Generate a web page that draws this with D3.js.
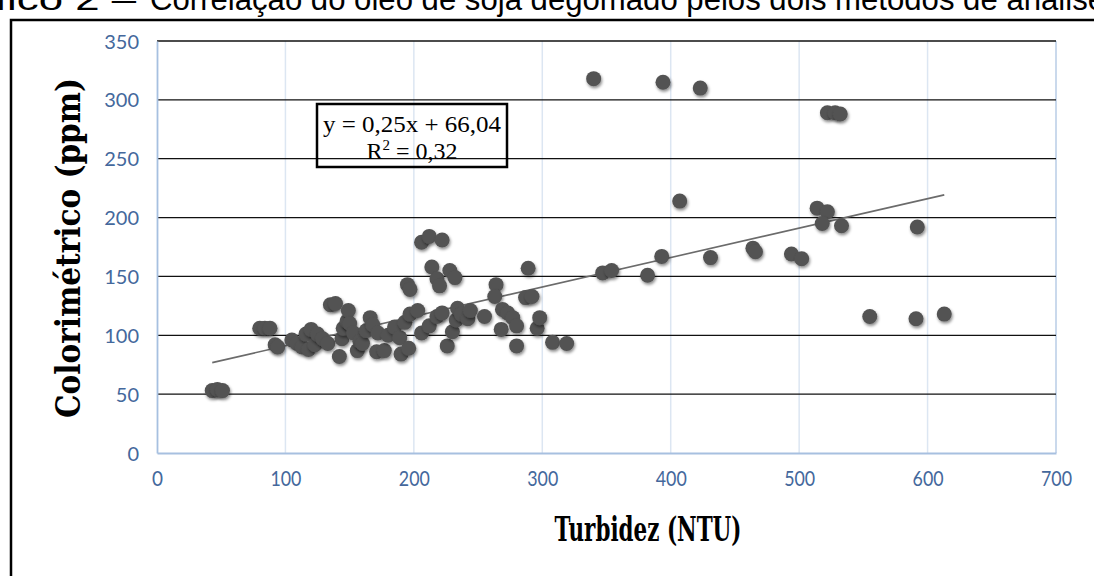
<!DOCTYPE html>
<meta charset="utf-8">
<style>
body { margin: 0; background: #fff; }
svg { display: block; }
</style>
<body>
<div id="chart"></div>
<script src="https://d3js.org/d3.v7.min.js"></script>
<script>
// data
var turbidez = [43, 47, 51, 80, 84, 88, 92, 94,
  105, 109, 113, 116, 118, 120, 123, 125, 129, 133, 135, 139,
  142, 144, 145, 148, 149, 150, 153, 156, 158, 160,
  163, 166, 168, 171, 172, 177, 180, 185, 189, 190, 193, 196, 197, 195, 197,
  203, 206, 206, 212, 222, 214, 218, 220, 228, 232,
  212, 218, 222, 226, 230, 233, 234, 237, 242, 244,
  255, 264, 263, 268, 269, 273, 277, 280, 280, 287, 292, 289, 296, 298, 308, 319,
  340, 394, 423, 347, 354, 382, 393, 407,
  431, 464, 466, 494, 502, 514, 522, 518, 533, 522, 528, 532,
  555, 591, 613, 592];
var colorimetrico = [53, 54, 53, 106, 106, 106, 92, 90,
  96, 93, 90, 101, 88, 105, 92, 101, 97, 93, 126, 127,
  82, 97, 106, 112, 121, 110, 102, 87, 95, 93,
  104, 115, 109, 86, 102, 87, 100, 107, 98, 84, 111, 89, 118, 143, 139,
  121, 102, 179, 184, 181, 158, 148, 142, 155, 149,
  108, 116, 119, 91, 103, 113, 123, 118, 114, 121,
  116, 143, 133, 105, 122, 119, 115, 108, 91, 132, 133, 157, 106, 115, 94, 93,
  318, 315, 310, 153, 155, 151, 167, 214,
  166, 174, 171, 169, 165, 208, 205, 195, 193, 289, 289, 288,
  116, 114, 118, 192];
var xTicks = [0, 100, 200, 300, 400, 500, 600, 700];
var yTicks = [0, 50, 100, 150, 200, 250, 300, 350];
var slope = 0.25, intercept = 66.04;
var trendRange = [43, 613];

var W = 1094, H = 576;
var margin = {top: 41, right: 38, bottom: 123, left: 157};
var width = W - margin.left - margin.right;
var height = H - margin.top - margin.bottom;

var svg = d3.select("#chart").append("svg")
    .attr("width", W)
    .attr("height", H);

// soft shadow under the markers
var defs = svg.append("defs");
defs.append("filter").attr("id", "shadow")
    .attr("x", "-50%").attr("y", "-50%").attr("width", "200%").attr("height", "200%")
  .append("feDropShadow")
    .attr("dx", 1).attr("dy", 2).attr("stdDeviation", 1.5)
    .attr("flood-color", "#000").attr("flood-opacity", 0.45);

// caption, cut off at the top of the picture
var capFont = "Liberation Sans, Arial, sans-serif";
svg.append("text")
    .attr("x", -78).attr("y", 10)
    .attr("font-family", capFont)
    .attr("font-size", 32)
    .attr("textLength", 214)
    .attr("lengthAdjust", "spacingAndGlyphs")
    .text("Gráfico 2 –");
svg.append("text")
    .attr("x", 150).attr("y", 10)
    .attr("font-family", capFont)
    .attr("font-size", 32)
    .attr("textLength", 955)
    .attr("lengthAdjust", "spacingAndGlyphs")
    .text("Correlação do óleo de soja degomado pelos dois métodos de análise");

// frame
svg.append("rect")
    .attr("x", 11).attr("y", 20)
    .attr("width", 1200).attr("height", 700)
    .attr("fill", "#fff")
    .attr("stroke", "#000")
    .attr("stroke-width", 2.5);

var g = svg.append("g")
    .attr("transform", "translate(" + margin.left + "," + margin.top + ")");

var x = d3.scaleLinear().domain([0, 700]).range([0, width]);
var y = d3.scaleLinear().domain([0, 350]).range([height, 0]);

// vertical grid
g.selectAll(".vgrid")
    .data(xTicks.slice(1))
  .enter().append("line")
    .attr("x1", function(d) { return x(d); })
    .attr("x2", function(d) { return x(d); })
    .attr("y1", 0).attr("y2", height)
    .attr("stroke", function(d) { return d === 700 ? "#b8cce6" : "#dce6f2"; })
    .attr("stroke-width", 1.5);

// horizontal grid
g.selectAll(".hgrid")
    .data(yTicks.slice(1))
  .enter().append("line")
    .attr("x1", 0).attr("x2", width)
    .attr("y1", function(d) { return y(d); })
    .attr("y2", function(d) { return y(d); })
    .attr("stroke", "#111")
    .attr("stroke-width", 1.3);

// axes
var xAxis = g.append("g")
    .attr("transform", "translate(0," + height + ")")
    .call(d3.axisBottom(x).tickValues(xTicks).tickSize(0).tickPadding(14));
var yAxis = g.append("g")
    .call(d3.axisLeft(y).tickValues(yTicks).tickSize(0).tickPadding(18));
[xAxis, yAxis].forEach(function(a) {
  a.select(".domain").attr("stroke", "#a7c0e0").attr("stroke-width", 1.8);
  a.selectAll("text")
      .attr("fill", "#44689c")
      .attr("font-family", "Lato, Open Sans, sans-serif");
});
yAxis.selectAll("text").attr("font-size", 20).attr("dy", "0.35em");
xAxis.selectAll("text")
    .attr("font-size", 21)
    .attr("dy", "0.9em")
    .attr("textLength", 31)
    .attr("lengthAdjust", "spacingAndGlyphs")
    .filter(function(d) { return d === 0; })
    .attr("textLength", 11);

// trend line
var line = d3.line()
    .x(function(d) { return x(d); })
    .y(function(d) { return y(slope * d + intercept); });
g.append("path")
    .attr("d", line(trendRange))
    .attr("fill", "none")
    .attr("stroke", "#6b6b6b")
    .attr("stroke-width", 1.6);

// points
g.selectAll(".dot")
    .data(turbidez)
  .enter().append("circle")
    .attr("cx", function(d) { return x(d); })
    .attr("cy", function(d, i) { return y(colorimetrico[i]); })
    .attr("r", 7.5)
    .attr("fill", "#525252")
    .attr("filter", "url(#shadow)");

// equation box
svg.append("rect")
    .attr("x", 317).attr("y", 104)
    .attr("width", 190).attr("height", 63)
    .attr("fill", "none")
    .attr("stroke", "#000")
    .attr("stroke-width", 2.5);
svg.append("text")
    .attr("x", 412).attr("y", 132)
    .attr("text-anchor", "middle")
    .attr("font-family", "Liberation Serif, serif")
    .attr("font-size", 24)
    .attr("textLength", 178)
    .attr("lengthAdjust", "spacingAndGlyphs")
    .text("y = 0,25x + 66,04");
var r2 = svg.append("text")
    .attr("x", 412).attr("y", 159)
    .attr("text-anchor", "middle")
    .attr("font-family", "Liberation Serif, serif")
    .attr("font-size", 24);
r2.append("tspan").text("R");
r2.append("tspan").attr("dy", -9).attr("font-size", 15).text("2");
r2.append("tspan").attr("dy", 9).text(" = 0,32");

// axis titles
svg.append("text")
    .attr("x", 648).attr("y", 541)
    .attr("text-anchor", "middle")
    .attr("font-family", "DejaVu Serif, serif")
    .attr("font-weight", "bold")
    .attr("font-size", 34)
    .attr("textLength", 187)
    .attr("lengthAdjust", "spacingAndGlyphs")
    .text("Turbidez (NTU)");
svg.append("text")
    .attr("transform", "translate(80,248) rotate(-90)")
    .attr("text-anchor", "middle")
    .attr("font-family", "DejaVu Serif, serif")
    .attr("font-weight", "bold")
    .attr("font-size", 33)
    .attr("textLength", 340)
    .attr("lengthAdjust", "spacingAndGlyphs")
    .text("Colorimétrico (ppm)");
</script>
</body>
